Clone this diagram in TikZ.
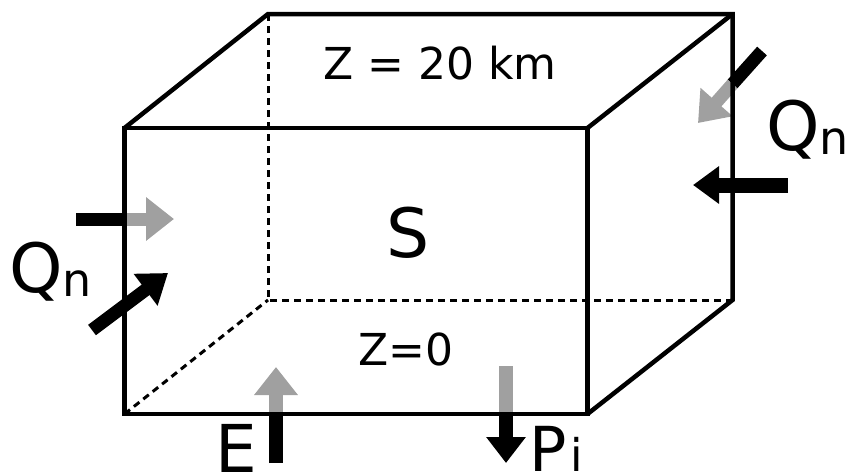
\documentclass[tikz,border=0pt]{standalone}
\usepackage{fontspec}
\setmainfont{DejaVu Sans}
\usetikzlibrary{arrows.meta}
\definecolor{arrgray}{RGB}{160,160,160}
\begin{document}
\begin{tikzpicture}[x=1pt,y=-1pt,
 edge/.style={line width=4.5pt,line join=miter},
 hidden/.style={line width=3pt,dash pattern=on 7pt off 5pt},
 bar/.style={line width=13pt},
 lbl/.style={inner sep=0pt,anchor=base west},
 clbl/.style={inner sep=0pt,anchor=base},
]
\useasboundingbox (0,0) rectangle (846,475);
% box corners
\coordinate (F1) at (124.5,128);
\coordinate (F2) at (587.5,128);
\coordinate (F3) at (587.5,414);
\coordinate (F4) at (124.5,414);
\coordinate (B1) at (268,14);
\coordinate (B2) at (732.5,14);
\coordinate (B3) at (732.5,300);
\coordinate (B4) at (268,300);
% hidden edges
\draw[hidden] (B1) -- (B4) -- (B3);
\draw[hidden] (F4) -- (B4);
% arrow points
\coordinate (Lt0) at (76,219);
\coordinate (Lt1) at (124.5,219);
\coordinate (Lt2) at (174,219);
\coordinate (La0) at (92,330);
\coordinate (La1) at (168,273);
\coordinate (Rt0) at (762,51);
\coordinate (Rt1) at (732.5,84);
\coordinate (Rt2) at (698,123);
\coordinate (Rh0) at (788,185);
\coordinate (Rh1) at (693,185);
\coordinate (E0) at (276,463);
\coordinate (E1) at (276,414);
\coordinate (E2) at (276,367);
\coordinate (P0) at (506,366);
\coordinate (P1) at (506,414);
\coordinate (P2) at (506,463);
% arrows
\draw[bar] (Lt0) -- (Lt1);
\draw[bar,arrgray,-{Triangle[length=28pt,width=42pt]}] (Lt1) -- (Lt2);
\draw[bar,-{Triangle[length=28pt,width=38pt]}] (La0) -- (La1);
\draw[bar] (Rt0) -- (Rt1);
\draw[bar,arrgray,-{Triangle[length=28pt,width=41pt]}] (Rt1) -- (Rt2);
\draw[line width=15pt,-{Triangle[length=26pt,width=36pt]}] (Rh0) -- (Rh1);
\draw[line width=14pt] (E0) -- (E1);
\draw[line width=14pt,arrgray,-{Triangle[length=28pt,width=42pt]}] (E1) -- (E2);
\draw[line width=14pt,arrgray] (P0) -- (P1);
\draw[line width=14pt,-{Triangle[length=26pt,width=38pt]}] (P1) -- (P2);
% visible edges
\draw[edge] (F1) -- (F2) -- (F3) -- (F4) -- cycle;
\draw[edge] (F1) -- (B1) -- (B2) -- (B3) -- (F3);
\draw[edge] (F2) -- (B2);
% labels
\node[lbl] (qleft) at (9,292) {\fontsize{68}{68}\selectfont Q\raisebox{-4pt}{\fontsize{46}{46}\selectfont n}};
\node[lbl] (qright) at (766,150) {\fontsize{68}{68}\selectfont Q\raisebox{-4pt}{\fontsize{46}{46}\selectfont n}};
\node[clbl] (s) at (408,257) {\fontsize{68}{68}\selectfont S};
\node[clbl] (ztop) at (440,79) {\fontsize{44}{44}\selectfont Z = 20 km};
\node[clbl] (zbot) at (406,365) {\fontsize{44}{44}\selectfont Z=0};
\node[lbl] (e) at (215,472) {\fontsize{66}{66}\selectfont E};
\node[lbl] (pi) at (529,471) {\fontsize{62}{62}\selectfont P\kern4pt{\fontsize{45}{45}\selectfont i}};
\end{tikzpicture}
\end{document}
